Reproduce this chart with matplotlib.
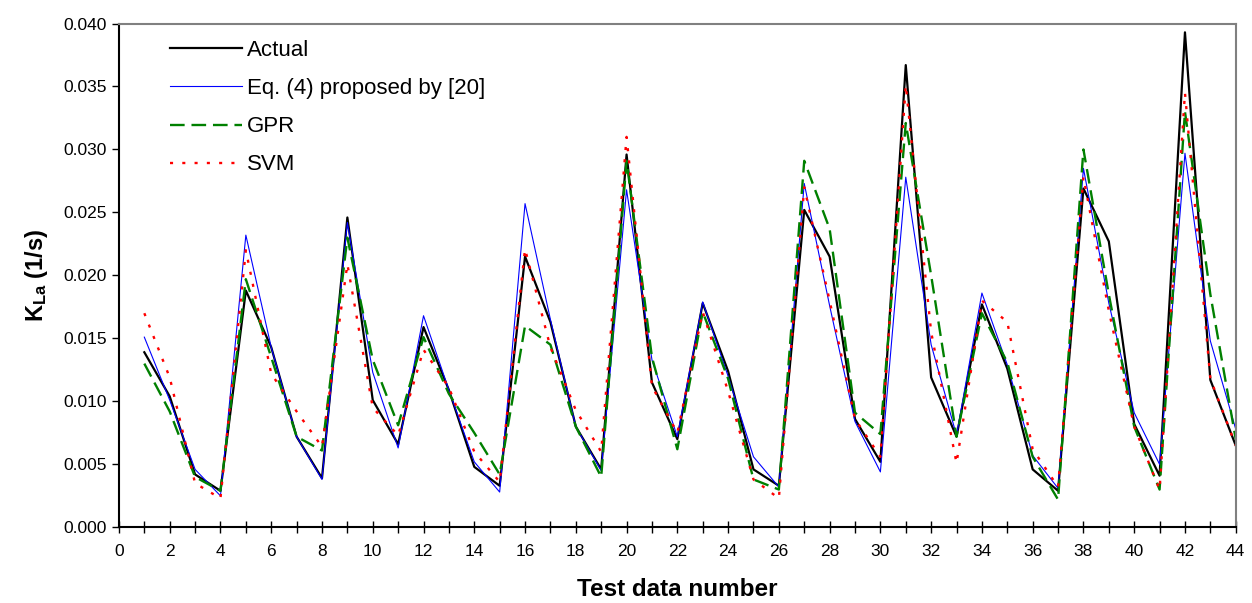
import matplotlib
matplotlib.use("Agg")
import matplotlib.pyplot as plt
from matplotlib.ticker import MultipleLocator, FormatStrFormatter

plt.rcParams['font.family'] = ['Liberation Sans', 'DejaVu Sans']
plt.rcParams['mathtext.fontset'] = 'custom'
plt.rcParams['mathtext.rm'] = 'Liberation Sans'
plt.rcParams['mathtext.bf'] = 'Liberation Sans:bold'

test_no = list(range(1, 45))

actual = [0.0139, 0.0104, 0.0042, 0.0029, 0.0188, 0.0143, 0.0072, 0.0039, 0.0246, 0.0101,
          0.0066, 0.0159, 0.0109, 0.0048, 0.0033, 0.0215, 0.0163, 0.0080, 0.0046, 0.0296,
          0.0115, 0.0070, 0.0178, 0.0124, 0.0046, 0.0033, 0.0252, 0.0215, 0.0086, 0.0052,
          0.0367, 0.0119, 0.0072, 0.0177, 0.0126, 0.0046, 0.0029, 0.0269, 0.0227, 0.0082,
          0.0041, 0.0393, 0.0117, 0.0065]

eq4 = [0.0151, 0.0101, 0.0046, 0.0025, 0.0232, 0.0143, 0.0072, 0.0038, 0.0242, 0.0123,
       0.0063, 0.0168, 0.0109, 0.0052, 0.0028, 0.0257, 0.0165, 0.0080, 0.0045, 0.0268,
       0.0133, 0.0072, 0.0179, 0.0120, 0.0056, 0.0032, 0.0273, 0.0176, 0.0084, 0.0044,
       0.0278, 0.0145, 0.0073, 0.0186, 0.0129, 0.0057, 0.0031, 0.0285, 0.0178, 0.0091,
       0.0050, 0.0297, 0.0148, 0.0078]

gpr = [0.0130, 0.0092, 0.0040, 0.0029, 0.0197, 0.0135, 0.0072, 0.0061, 0.0230, 0.0133,
       0.0081, 0.0151, 0.0106, 0.0075, 0.0042, 0.0160, 0.0145, 0.0080, 0.0040, 0.0291,
       0.0135, 0.0062, 0.0171, 0.0118, 0.0038, 0.0030, 0.0291, 0.0237, 0.0091, 0.0074,
       0.0321, 0.0200, 0.0072, 0.0170, 0.0131, 0.0056, 0.0022, 0.0300, 0.0185, 0.0080,
       0.0030, 0.0330, 0.0185, 0.0070]

svm = [0.0170, 0.0119, 0.0035, 0.0023, 0.0220, 0.0122, 0.0092, 0.0064, 0.0209, 0.0095,
       0.0073, 0.0141, 0.0111, 0.0060, 0.0036, 0.0221, 0.0143, 0.0093, 0.0060, 0.0310,
       0.0112, 0.0075, 0.0171, 0.0108, 0.0038, 0.0023, 0.0270, 0.0180, 0.0086, 0.0056,
       0.0351, 0.0155, 0.0051, 0.0180, 0.0163, 0.0062, 0.0032, 0.0278, 0.0172, 0.0080,
       0.0030, 0.0345, 0.0118, 0.0065]

labels = ["Actual", "Eq. (4) proposed by [20]", "GPR", "SVM"]

fig = plt.figure(figsize=(12.52, 6.03), dpi=100)
ax = fig.add_axes([0.095, 0.1255, 0.892, 0.8355])

ax.plot(test_no, actual, color='black', lw=1.6, label=labels[0])
ax.plot(test_no, eq4, color='#0000FF', lw=0.8, label=labels[1])
ax.plot(test_no, gpr, color='#008000', lw=1.7, dashes=(6.2, 2.9), label=labels[2])
ax.plot(test_no, svm, color='#FF0000', lw=1.7, dashes=(1.3, 3.9), label=labels[3])

ax.set_xlim(0, 44)
ax.set_ylim(0, 0.040)
ax.xaxis.set_major_locator(MultipleLocator(2))
ax.xaxis.set_minor_locator(MultipleLocator(1))
ax.yaxis.set_major_locator(MultipleLocator(0.005))
ax.yaxis.set_major_formatter(FormatStrFormatter('%.3f'))

ax.tick_params(axis='x', which='both', direction='inout', length=8, width=1, labelsize=12.5, pad=8)
ax.tick_params(axis='y', which='major', direction='out', length=5, width=1, labelsize=12.5)

for s in ['left', 'bottom']:
    ax.spines[s].set_color('black')
    ax.spines[s].set_linewidth(1.5)
for s in ['top', 'right']:
    ax.spines[s].set_color('#808080')
    ax.spines[s].set_linewidth(1.5)

ax.set_xlabel('Test data number', fontsize=17.5, fontweight='bold', labelpad=14)
ax.set_ylabel(r'$\mathbf{K_{La}}$ (1/s)', fontsize=17, fontweight='bold', labelpad=10)

leg = ax.legend(loc='upper left', bbox_to_anchor=(0.0453, 0.967), frameon=False,
                fontsize=16, handlelength=3.24, handletextpad=0.25, labelspacing=0.77,
                borderpad=0, borderaxespad=0)

fig.savefig('out.png', dpi=100)
